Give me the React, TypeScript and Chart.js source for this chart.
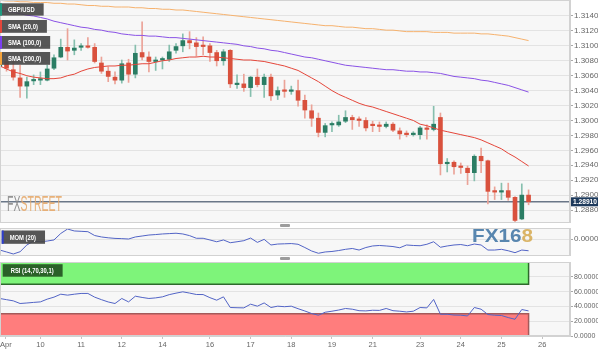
import React, { useEffect, useRef } from "react";
import { Chart, registerables } from "chart.js";

Chart.register(...registerables);

// ---------------- DATA (4h candles, GBP/USD) ----------------
const OPEN = [
  1.3072, 1.3079, 1.3068, 1.3057, 1.3046, 1.3053, 1.3054, 1.3054, 1.307, 1.3085,
  1.3098, 1.3094, 1.3098, 1.31, 1.3098, 1.3077, 1.3066, 1.3058, 1.3054, 1.3077,
  1.3062, 1.3091, 1.3085, 1.3079, 1.3081, 1.3082, 1.3094, 1.31, 1.3107, 1.3104,
  1.31, 1.31, 1.3091, 1.308, 1.3094, 1.3048, 1.3049, 1.3044, 1.3058, 1.3048,
  1.3058, 1.3034, 1.304, 1.3039, 1.304, 1.3027, 1.3013, 1.3003, 1.2984, 1.2994,
  1.2994, 1.2999, 1.3004, 1.3001, 1.3, 1.2995, 1.2993, 1.2992, 1.2995, 1.2986,
  1.2982, 1.2981, 1.2981, 1.2989, 1.2988, 1.3004, 1.2942, 1.2944, 1.2938, 1.2936,
  1.293, 1.2952, 1.2946, 1.2905, 1.2904, 1.2906, 1.2897, 1.2868, 1.29,
];
const HIGH = [
  1.3084, 1.3086, 1.3081, 1.3074, 1.3058, 1.3061, 1.3065, 1.3074, 1.3088, 1.3109,
  1.3123, 1.3108, 1.3103, 1.3111, 1.3103, 1.3085, 1.3072, 1.3065, 1.3081, 1.3082,
  1.3101, 1.3132, 1.3092, 1.3085, 1.3085, 1.3101, 1.3103, 1.3116, 1.3119, 1.3111,
  1.3112, 1.3103, 1.3094, 1.3095, 1.3095, 1.3061, 1.3062, 1.3059, 1.3069, 1.3062,
  1.3062, 1.3045, 1.3054, 1.3046, 1.3054, 1.3034, 1.3021, 1.301, 1.2996, 1.2998,
  1.3007, 1.3013, 1.3007, 1.3005, 1.3004, 1.2999, 1.2998, 1.2998, 1.2997, 1.299,
  1.2986, 1.2985, 1.2992, 1.2994, 1.3019, 1.301, 1.2949, 1.2946, 1.2943, 1.2939,
  1.2954, 1.2963, 1.2947, 1.2911, 1.2916, 1.2916, 1.2898, 1.2915, 1.2907,
];
const LOW = [
  1.3061, 1.3066, 1.3054, 1.3031, 1.303, 1.3048, 1.3048, 1.3053, 1.3068, 1.3084,
  1.3081, 1.3088, 1.3094, 1.3097, 1.3077, 1.3063, 1.3052, 1.3049, 1.305, 1.3051,
  1.3057, 1.3081, 1.3065, 1.3067, 1.3069, 1.3079, 1.309, 1.3092, 1.3096, 1.3086,
  1.3088, 1.3079, 1.3073, 1.3074, 1.3044, 1.3043, 1.3039, 1.3032, 1.3045, 1.3031,
  1.3027, 1.3028, 1.3031, 1.3035, 1.3019, 1.3003, 1.2992, 1.2978, 1.2978, 1.2985,
  1.2992, 1.2997, 1.2988, 1.2992, 1.2986, 1.2985, 1.2985, 1.299, 1.2985, 1.2975,
  1.2978, 1.2979, 1.2975, 1.2975, 1.2986, 1.2927, 1.2931, 1.2928, 1.2929, 1.2914,
  1.2919, 1.293, 1.2888, 1.2894, 1.2894, 1.2893, 1.2864, 1.2867, 1.2887,
];
const CLOSE = [
  1.3079, 1.307, 1.3058, 1.3046, 1.3052, 1.3054, 1.3056, 1.3069, 1.3084, 1.3098,
  1.3093, 1.3097, 1.31, 1.3098, 1.3079, 1.3066, 1.3059, 1.3054, 1.3076, 1.3062,
  1.309, 1.3085, 1.3079, 1.308, 1.3082, 1.3092, 1.3099, 1.3107, 1.3104, 1.3099,
  1.3099, 1.3091, 1.308, 1.3092, 1.3049, 1.3049, 1.3044, 1.3058, 1.3048, 1.3058,
  1.3033, 1.304, 1.3039, 1.304, 1.3027, 1.3014, 1.3003, 1.2984, 1.2993, 1.2995,
  1.2998, 1.3004, 1.3001, 1.3, 1.299, 1.2993, 1.2992, 1.2995, 1.2987, 1.2982,
  1.2981, 1.2982, 1.299, 1.2988, 1.2995, 1.2942, 1.2944, 1.2938, 1.2937, 1.293,
  1.2952, 1.2946, 1.2905, 1.2904, 1.2905, 1.2897, 1.2866, 1.29, 1.2891,
];
const SMA20 = [
  1.3073, 1.3069, 1.3065, 1.3063, 1.306, 1.3058, 1.3057, 1.3056, 1.3056, 1.3057,
  1.306, 1.3062, 1.3066, 1.3069, 1.3071, 1.3072, 1.3073, 1.3073, 1.3074, 1.3074,
  1.3075, 1.3076, 1.3076, 1.3078, 1.308, 1.3081, 1.3083, 1.3084, 1.3085, 1.3085,
  1.3086, 1.3085, 1.3085, 1.3084, 1.3083, 1.3082, 1.3081, 1.3081, 1.308, 1.3079,
  1.3077, 1.3075, 1.3073, 1.307, 1.3067, 1.3062, 1.3057, 1.3052, 1.3046, 1.304,
  1.3035, 1.3031, 1.3027, 1.3023, 1.302, 1.3018, 1.3015, 1.3012, 1.3009, 1.3006,
  1.3003, 1.3, 1.2995, 1.2993, 1.299, 1.2987, 1.2985, 1.2983, 1.2981, 1.2979,
  1.2977, 1.2974, 1.297, 1.2966, 1.2962, 1.2956, 1.2951, 1.2945, 1.2939,
];
const SMA100 = [
  1.3148, 1.3146, 1.3145, 1.3143, 1.3141, 1.314, 1.3138, 1.3136, 1.3133, 1.3131,
  1.3129, 1.3127, 1.3125, 1.3124, 1.3122, 1.3121, 1.3119, 1.3118, 1.3116, 1.3115,
  1.3114, 1.3114, 1.3113, 1.3113, 1.3112, 1.3111, 1.3111, 1.311, 1.3109, 1.3108,
  1.3107, 1.3106, 1.3105, 1.3104, 1.3103, 1.3102, 1.31, 1.3099, 1.3097, 1.3096,
  1.3094, 1.3093, 1.3091, 1.3089, 1.3087, 1.3085, 1.3084, 1.3082, 1.308, 1.3078,
  1.3076, 1.3074, 1.3073, 1.3072, 1.3071, 1.307, 1.3069, 1.3068, 1.3068, 1.3067,
  1.3066, 1.3066, 1.3065, 1.3065, 1.3064, 1.3063, 1.3061, 1.3059, 1.3058, 1.3057,
  1.3056, 1.3054, 1.3053, 1.3051, 1.3049, 1.3047, 1.3044, 1.3041, 1.3038,
];
const SMA200 = [
  1.3161, 1.316, 1.316, 1.3159, 1.3159, 1.3158, 1.3158, 1.3158, 1.3157, 1.3157,
  1.3156, 1.3156, 1.3155, 1.3154, 1.3154, 1.3153, 1.3153, 1.3152, 1.3152, 1.3152,
  1.3151, 1.3151, 1.315, 1.315, 1.3149, 1.3149, 1.3148, 1.3148, 1.3147, 1.3146,
  1.3145, 1.3144, 1.3143, 1.3142, 1.3141, 1.314, 1.3139, 1.3138, 1.3137, 1.3136,
  1.3135, 1.3134, 1.3133, 1.3132, 1.3131, 1.313, 1.3129, 1.3128, 1.3127, 1.3127,
  1.3126, 1.3125, 1.3125, 1.3124, 1.3123, 1.3123, 1.3122, 1.3121, 1.3121, 1.312,
  1.3119, 1.3119, 1.3119, 1.3119, 1.3118, 1.3118, 1.3118, 1.3117, 1.3117, 1.3117,
  1.3117, 1.3116, 1.3116, 1.3115, 1.3114, 1.3113, 1.3111, 1.3109, 1.3107,
];
const MOM20 = [
  -0.0092, -0.0108, -0.0125, -0.0106, -0.005, -0.0017, -0.0023, -0.0017, -0.0008, 0.0046,
  0.0083, 0.0067, 0.0064, 0.0061, 0.0029, 0.0017, 0.001, 0.0005, 0.0003, 0.0,
  0.0017, 0.0025, 0.0033, 0.0037, 0.0042, 0.0045, 0.0048, 0.0042, 0.0028, 0.0006,
  0.0006, -0.0008, -0.0023, -0.0008, -0.0031, -0.0023, -0.0014, 0.0008, -0.0028, -0.0003,
  -0.005, -0.0042, -0.004, -0.0038, -0.0044, -0.0071, -0.01, -0.0119, -0.0108, -0.0104,
  -0.0096, -0.0086, -0.0079, -0.0092, -0.0071, -0.0058, -0.0054, -0.0058, -0.0063, -0.0073,
  -0.005, -0.0054, -0.0056, -0.0044, -0.0023, -0.0069, -0.0058, -0.005, -0.0046, -0.0056,
  -0.0042, -0.005, -0.0092, -0.0092, -0.0086, -0.0098, -0.0114, -0.0092, -0.0098,
];
const RSI14 = [
  50.7, 49.1, 47.5, 43.9, 44.6, 45.4, 46.1, 49.8, 52.5, 56.5,
  55.2, 56.5, 57.5, 57.5, 52.5, 49.1, 46.0, 43.9, 50.7, 46.1,
  53.8, 52.1, 50.7, 51.5, 52.9, 55.9, 57.9, 59.7, 58.0, 56.1,
  56.0, 51.8, 48.4, 52.9, 38.5, 38.2, 38.0, 43.0, 40.3, 44.7,
  38.5, 40.3, 39.6, 40.3, 36.9, 33.8, 30.4, 28.1, 32.1, 33.5,
  35.1, 37.2, 36.2, 34.2, 33.9, 34.8, 34.6, 37.2, 34.2, 33.5,
  32.5, 33.5, 38.5, 38.0, 49.4, 29.4, 29.4, 28.3, 28.1, 27.1,
  38.5, 36.2, 29.0, 28.1, 27.7, 24.9, 22.6, 35.8, 33.9,
];
const PRICE_TICKS = [1.288, 1.29, 1.292, 1.294, 1.296, 1.298, 1.3, 1.302, 1.304, 1.306, 1.308, 1.31, 1.312, 1.314];
const MOM_TICKS = [0];
const RSI_TICKS = [0, 20, 40, 60, 80];
const X_TICKS = [0.9, 6, 12, 18, 24, 31, 37, 43, 49, 55, 62, 68, 74, 80];
const X_LABELS = ["Apr", "10", "11", "12", "14", "16", "17", "18", "19", "21", "23", "24", "25", "26"];
const LAST_PRICE = 1.2891;
const RSI_OVERBOUGHT = 70;
const RSI_OVERSOLD = 30;
const RSI_TOP = 100;
const SYMBOL = "GBP/USD";
const LEGEND_MAIN = ["SMA (20,0)", "SMA (100,0)", "SMA (200,0)"];
const MOM_LABEL = "MOM (20)";
const RSI_LABEL = "RSI (14,70,30,1)";

// ---------------- STYLE ----------------
const FONT = "'Liberation Sans', Arial, sans-serif";
const W = 598;
const AXIS_W = 28;
const X_MIN = 0.038;
const X_MAX = 84.11;
const PRICE_MIN = 1.28626;
const PRICE_MAX = 1.31614;
const MOM_MIN = -0.014167;
const MOM_MAX = 0.009167;
const UP = "#2b7d64";
const DOWN = "#d9513d";
const UP_WICK = "#86bfae";
const DOWN_WICK = "#eba398";
const C_SMA20 = "#e5463a";
const C_SMA100 = "#8a52e6";
const C_SMA200 = "#f6b26e";
const C_IND = "#5264c6";
const PANEL_BG = "#f7f7f7";
const GRID = "#e3e3e3";
const BORDER = "#d2d2d2";
const TICK_C = "#666666";
const TAG_FILL = "rgba(72,72,72,0.92)";
const NARROW = 0.78;

const idx = CLOSE.map((_, i) => i);
const LAST = CLOSE.length - 1;
const isUp = (i: number) => CLOSE[i] >= OPEN[i];

function drawTag(ctx: CanvasRenderingContext2D, x: number, y: number, h: number, text: string, stripe: string | null, fill: string) {
  ctx.save();
  ctx.font = `bold 7.5px ${FONT}`;
  const tw = ctx.measureText(text).width * NARROW;
  const w = tw + 17;
  ctx.fillStyle = fill;
  ctx.fillRect(x, y, w, h);
  if (stripe) {
    ctx.fillStyle = stripe;
    ctx.fillRect(x, y, 2, h);
  }
  ctx.fillStyle = "#ffffff";
  ctx.textBaseline = "middle";
  ctx.translate(x + 8, y + h / 2 + 0.5);
  ctx.scale(NARROW, 1);
  ctx.fillText(text, 0, 0);
  ctx.restore();
}

function drawStretched(ctx: CanvasRenderingContext2D, parts: [string, string][], x: number, base: number, font: string, targetW: number, alpha: number, baseline: CanvasTextBaseline = "alphabetic") {
  ctx.save();
  ctx.font = font;
  ctx.globalAlpha = alpha;
  ctx.textBaseline = baseline;
  const total = parts.reduce((s, p) => s + ctx.measureText(p[0]).width, 0);
  ctx.translate(x, base);
  ctx.scale(targetW / total, 1);
  let cx = 0;
  for (const [t, c] of parts) {
    ctx.fillStyle = c;
    ctx.fillText(t, cx, 0);
    cx += ctx.measureText(t).width;
  }
  ctx.restore();
}

const panelPlugin = {
  id: "panel",
  beforeDraw(chart: any) {
    const { ctx, chartArea: a } = chart;
    ctx.save();
    ctx.fillStyle = PANEL_BG;
    ctx.fillRect(a.left, a.top, a.right - a.left, a.bottom - a.top);
    ctx.restore();
  },
  afterDatasetsDraw(chart: any) {
    const { ctx, chartArea: a } = chart;
    ctx.save();
    ctx.strokeStyle = BORDER;
    ctx.lineWidth = 1;
    ctx.strokeRect(a.left + 0.5, a.top + 0.5, a.right - a.left - 1, a.bottom - a.top - 1);
    ctx.restore();
  },
};

const xAxis = (display: boolean) => ({
  type: "linear",
  min: X_MIN,
  max: X_MAX,
  offset: false,
  display,
  afterBuildTicks: (s: any) => {
    s.ticks = X_TICKS.map((v) => ({ value: v }));
  },
  afterFit: (s: any) => {
    s.paddingLeft = 0;
    s.paddingRight = 0;
    if (display) s.height = 16;
  },
  ticks: {
    autoSkip: false,
    maxRotation: 0,
    minRotation: 0,
    padding: 1,
    color: TICK_C,
    font: { family: FONT, size: 7.5 },
    callback: (_v: any, i: number) => X_LABELS[i],
  },
  grid: { drawOnChartArea: false, drawTicks: true, tickLength: 3, color: "#c4c4c4" },
  border: { display: true, color: BORDER },
});

const yAxis = (min: number, max: number, ticks: number[], size: number) => ({
  position: "right",
  min,
  max,
  afterBuildTicks: (s: any) => {
    s.ticks = ticks.map((v) => ({ value: v }));
  },
  afterFit: (s: any) => {
    s.width = AXIS_W;
    s.paddingTop = 0;
    s.paddingBottom = 0;
  },
  ticks: {
    autoSkip: false,
    padding: 1,
    color: TICK_C,
    font: { family: FONT, size },
    callback: (v: any) => Number(v).toFixed(4),
  },
  grid: { color: GRID, tickLength: 3, tickColor: "#a8a8a8" },
  border: { color: BORDER },
});

const baseOptions = {
  animation: false,
  responsive: false,
  maintainAspectRatio: false,
  devicePixelRatio: 1,
  events: [],
  layout: { padding: 0 },
  plugins: { legend: { display: false }, tooltip: { enabled: false } },
};

const lineDs = (values: number[], color: string, order: number) => ({
  type: "line",
  data: idx.map((i) => ({ x: i, y: values[i] })),
  borderColor: color,
  borderWidth: 1,
  pointRadius: 0,
  tension: 0,
  fill: false,
  order,
});

export default function App() {
  const mainRef = useRef<HTMLCanvasElement>(null);
  const momRef = useRef<HTMLCanvasElement>(null);
  const rsiRef = useRef<HTMLCanvasElement>(null);

  useEffect(() => {
    const mainExtra = {
      id: "mainExtra",
      beforeDatasetsDraw(chart: any) {
        const { ctx, chartArea: a } = chart;
        const y = chart.scales.y.getPixelForValue(LAST_PRICE);
        ctx.save();
        ctx.strokeStyle = "#6a7788";
        ctx.lineWidth = 1.6;
        ctx.beginPath();
        ctx.moveTo(a.left, y);
        ctx.lineTo(a.right, y);
        ctx.stroke();
        ctx.restore();
        drawStretched(ctx, [["FX", "#888888"], ["STREET", "#e6a86a"]], 7, 211, `22px ${FONT}`, 55, 0.9);
      },
      afterDraw(chart: any) {
        const { ctx, chartArea: a } = chart;
        const y = chart.scales.y.getPixelForValue(LAST_PRICE);
        ctx.save();
        ctx.fillStyle = "#1e3a5c";
        ctx.fillRect(a.right + 1, y - 4.5, W - a.right - 1, 9);
        ctx.restore();
        drawStretched(ctx, [[LAST_PRICE.toFixed(5), "#ffffff"]], a.right + 3, y + 0.5, `bold 7.5px ${FONT}`, 24, 1, "middle");
        drawTag(ctx, 0, 3.3, 12.3, SYMBOL, "#1f9b80", TAG_FILL);
        const stripes = [C_SMA20, "#7a3ff0", "#f5a43c"];
        const tops = [20, 36, 52];
        LEGEND_MAIN.forEach((t, k) => drawTag(ctx, 0, tops[k], 12.8, t, stripes[k], TAG_FILL));
      },
    };

    const main = new Chart(mainRef.current as HTMLCanvasElement, {
      type: "bar",
      data: {
        datasets: [
          lineDs(SMA200, C_SMA200, 0),
          lineDs(SMA100, C_SMA100, 0),
          lineDs(SMA20, C_SMA20, 0),
          {
            type: "bar",
            data: idx.map((i) => ({ x: i, y: [LOW[i], HIGH[i]] })),
            backgroundColor: (c: any) => (isUp(c.dataIndex) ? UP_WICK : DOWN_WICK),
            barThickness: 1,
            grouped: false,
            minBarLength: 1,
            order: 3,
          },
          {
            type: "bar",
            data: idx.map((i) => ({ x: i, y: [OPEN[i], CLOSE[i]] })),
            backgroundColor: (c: any) => (isUp(c.dataIndex) ? UP : DOWN),
            barThickness: 4,
            grouped: false,
            minBarLength: 1.5,
            order: 2,
          },
        ],
      } as any,
      options: {
        ...baseOptions,
        scales: { x: xAxis(false), y: yAxis(PRICE_MIN, PRICE_MAX, PRICE_TICKS, 8) },
      } as any,
      plugins: [panelPlugin, mainExtra],
    });

    const momExtra = {
      id: "momExtra",
      afterDraw(chart: any) {
        const { ctx } = chart;
        drawTag(ctx, 1.7, 2.5, 13.3, MOM_LABEL, "#2f3fd0", TAG_FILL);
        drawStretched(ctx, [["FX16", "#4a7ca8"], ["8", "#d7ae5a"]], 472, 14, `bold 19px ${FONT}`, 61, 0.92);
      },
    };

    const mom = new Chart(momRef.current as HTMLCanvasElement, {
      type: "line",
      data: { datasets: [lineDs(MOM20, C_IND, 0)] } as any,
      options: {
        ...baseOptions,
        scales: { x: xAxis(false), y: yAxis(MOM_MIN, MOM_MAX, MOM_TICKS, 8) },
      } as any,
      plugins: [panelPlugin, momExtra],
    });

    const rsiExtra = {
      id: "rsiExtra",
      afterDraw(chart: any) {
        const { ctx } = chart;
        drawTag(ctx, 2.7, 2.2, 12.5, RSI_LABEL, null, "rgba(38,88,36,0.95)");
      },
    };

    const rsi = new Chart(rsiRef.current as HTMLCanvasElement, {
      type: "line",
      data: {
        datasets: [
          lineDs(RSI14, C_IND, 0),
          {
            type: "line",
            data: [
              { x: -1, y: RSI_OVERBOUGHT },
              { x: LAST, y: RSI_OVERBOUGHT },
              { x: LAST, y: RSI_TOP },
            ],
            borderColor: "#2d6a2b",
            borderWidth: 1.5,
            backgroundColor: "#7ef47a",
            fill: { value: RSI_TOP },
            pointRadius: 0,
            tension: 0,
            order: 2,
          },
          {
            type: "line",
            data: [
              { x: -1, y: RSI_OVERSOLD },
              { x: LAST, y: RSI_OVERSOLD },
              { x: LAST, y: 0 },
            ],
            borderColor: "#a45a5a",
            borderWidth: 1.5,
            backgroundColor: "#ff7d7d",
            fill: { value: 0 },
            pointRadius: 0,
            tension: 0,
            order: 3,
          },
        ],
      } as any,
      options: {
        ...baseOptions,
        scales: { x: xAxis(true), y: yAxis(0, RSI_TOP, RSI_TICKS, 7) },
      } as any,
      plugins: [panelPlugin, rsiExtra],
    });

    return () => {
      main.destroy();
      mom.destroy();
      rsi.destroy();
    };
  }, []);

  const handle: React.CSSProperties = {
    position: "absolute",
    left: 280,
    width: 10,
    height: 3,
    background: "#9c9c9c",
    borderRadius: 1,
  };

  return (
    <div style={{ position: "fixed", left: 0, top: 0, width: W, height: 352, background: "#ffffff", overflow: "hidden" }}>
      <canvas ref={mainRef} width={W} height={223} style={{ position: "absolute", left: 0, top: 0, width: W, height: 223 }} />
      <div style={{ ...handle, top: 224 }} />
      <canvas ref={momRef} width={W} height={28} style={{ position: "absolute", left: 0, top: 228, width: W, height: 28 }} />
      <div style={{ ...handle, top: 257 }} />
      <canvas ref={rsiRef} width={W} height={90} style={{ position: "absolute", left: 0, top: 262, width: W, height: 90 }} />
    </div>
  );
}
